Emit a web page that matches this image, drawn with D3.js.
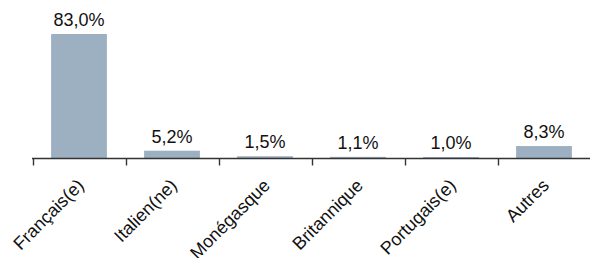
<!DOCTYPE html>
<html><head><meta charset="utf-8">
<script src="https://cdn.jsdelivr.net/npm/d3@7"></script>
<style>body{margin:0;background:#fff}svg{display:block}text{font-family:"Liberation Sans",Arial,Helvetica,sans-serif}</style>
</head><body>
<svg id="c" width="590" height="258"></svg>
<script>
const categories = ["Français(e)", "Italien(ne)", "Monégasque", "Britannique", "Portugais(e)", "Autres"];
const values = [83.0, 5.2, 1.5, 1.1, 1.0, 8.3];
const valueLabels = ["83,0%", "5,2%", "1,5%", "1,1%", "1,0%", "8,3%"];

const svg = d3.select("#c");
const x = d3.scaleBand().domain(categories).range([32.5, 590.5]).padding(0);
const y = d3.scaleLinear().domain([0, 100]).range([158.5, 8.5]);
const bw = x.bandwidth() * 0.6;

svg.append("g").selectAll("rect").data(values).join("rect")
  .attr("x", (d, i) => x(categories[i]) + (x.bandwidth() - bw) / 2)
  .attr("y", d => y(d))
  .attr("width", bw)
  .attr("height", d => y(0) - y(d))
  .attr("fill", "#9cb0c2");

svg.append("g").selectAll("text").data(values).join("text")
  .attr("x", (d, i) => x(categories[i]) + x.bandwidth() / 2)
  .attr("y", d => y(d) - 8)
  .attr("text-anchor", "middle")
  .attr("font-size", 18)
  .attr("fill", "#111")
  .text((d, i) => valueLabels[i]);

// axis
const ax = svg.append("g");
ax.append("line").attr("x1", 32).attr("x2", 590).attr("y1", y(0)).attr("y2", y(0))
  .attr("stroke", "#333").attr("stroke-width", 1.4);
ax.selectAll("line.t").data(categories).join("line").attr("class", "t")
  .attr("x1", d => Math.round(x(d)) + 0.5).attr("x2", d => Math.round(x(d)) + 0.5)
  .attr("y1", y(0)).attr("y2", y(0) + 7)
  .attr("stroke", "#333").attr("stroke-width", 1.4);
ax.selectAll("text").data(categories).join("text")
  .attr("transform", d => `translate(${x(d) + x.bandwidth() / 2 - 3},${y(0) + 19}) rotate(-45)`)
  .attr("text-anchor", "end")
  .attr("dy", "0.71em")
  .attr("font-size", 18)
  .attr("fill", "#111")
  .text(d => d);
</script>
</body></html>
